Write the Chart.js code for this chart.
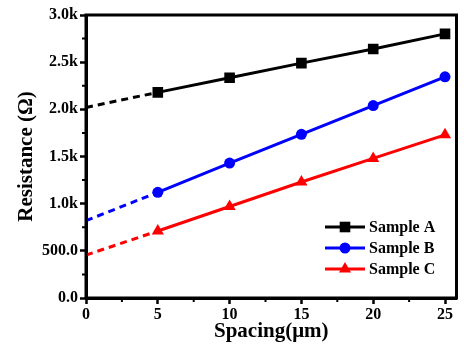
<!DOCTYPE html>
<html>
<head>
<meta charset="utf-8">
<script src="https://cdn.jsdelivr.net/npm/chart.js"></script>
<style>
  html, body { margin: 0; padding: 0; background: #fff; }
  #wrap { width: 464px; height: 351px; position: relative; }
</style>
</head>
<body>
<div id="wrap"><canvas id="resChart"></canvas></div>
<script>
// measured points (spacing in um, resistance in ohm)
const xValues = [5, 10, 15, 20, 25];
const sampleA = [2180, 2335, 2490, 2640, 2800];
const sampleB = [1120, 1430, 1735, 2040, 2345];
const sampleC = [710, 970, 1230, 1480, 1730];

// dashed extrapolation back to zero spacing
const extrapX = [0, 5];
const extrapA = [2020, 2180];
const extrapB = [820, 1120];
const extrapC = [455, 710];

const seriesNames = ['Sample A', 'Sample B', 'Sample C'];
const seriesColors = ['#000000', '#0000ff', '#ff0000'];
const xTickLabels = ['0', '5', '10', '15', '20', '25'];
const yTickLabels = ['0.0', '500.0', '1.0k', '1.5k', '2.0k', '2.5k', '3.0k'];

const FONT = "'Liberation Serif', 'Times New Roman', serif";

function pts(xs, ys) {
  return xs.map((x, i) => ({ x: x, y: ys[i] }));
}

const markers = [
  { style: 'rect', radius: 7.5 },
  { style: 'circle', radius: 5.5 },
  { style: 'triangle', radius: 7 }
];

const solidSets = [sampleA, sampleB, sampleC].map((ys, i) => ({
  label: seriesNames[i],
  data: pts(xValues, ys),
  borderColor: seriesColors[i],
  backgroundColor: seriesColors[i],
  borderWidth: 3,
  pointStyle: markers[i].style,
  pointRadius: markers[i].radius,
  pointHoverRadius: markers[i].radius,
  pointBorderWidth: 0,
  tension: 0
}));

const dashedSets = [extrapA, extrapB, extrapC].map((ys, i) => ({
  label: '_extrap' + i,
  data: pts(extrapX, ys),
  borderColor: seriesColors[i],
  borderWidth: 3,
  borderDash: [7, 5],
  pointRadius: 0,
  tension: 0
}));

// box frame + minor ticks
const framePlugin = {
  id: 'frame',
  afterDraw(chart) {
    const { ctx, chartArea: a } = chart;
    const xs = chart.scales.x, ys = chart.scales.y;
    ctx.save();
    ctx.strokeStyle = '#000';
    ctx.lineWidth = 3;
    ctx.strokeRect(a.left, a.top, a.right - a.left, a.bottom - a.top);
    ctx.lineWidth = 2;
    ctx.beginPath();
    for (let v = 2.5; v < 25; v += 5) {
      const px = xs.getPixelForValue(v);
      ctx.moveTo(px, a.bottom);
      ctx.lineTo(px, a.bottom + 4);
    }
    for (let v = 250; v < 3000; v += 500) {
      const py = ys.getPixelForValue(v);
      ctx.moveTo(a.left, py);
      ctx.lineTo(a.left - 4, py);
    }
    ctx.stroke();
    ctx.restore();
  }
};

// legend drawn inside the plot, lower right
const legendPlugin = {
  id: 'innerLegend',
  afterDraw(chart) {
    const ctx = chart.ctx;
    const x0 = 325, x1 = 365, rowY = [227, 248, 269];
    ctx.save();
    solidSets.forEach((ds, i) => {
      const y = rowY[i];
      ctx.strokeStyle = ds.borderColor;
      ctx.lineWidth = 3;
      ctx.beginPath();
      ctx.moveTo(x0, y);
      ctx.lineTo(x1, y);
      ctx.stroke();
      ctx.fillStyle = ds.backgroundColor;
      Chart.helpers.drawPoint(ctx, {
        pointStyle: ds.pointStyle,
        radius: ds.pointRadius,
        borderWidth: 0
      }, (x0 + x1) / 2, y);
      ctx.fillStyle = '#000';
      ctx.font = 'bold 16px ' + FONT;
      ctx.textBaseline = 'middle';
      ctx.textAlign = 'left';
      ctx.fillText(ds.label, x1 + 4, y + 1);
    });
    ctx.restore();
  }
};

const ctx = document.getElementById('resChart').getContext('2d');
new Chart(ctx, {
  type: 'line',
  data: { datasets: dashedSets.concat(solidSets) },
  options: {
    responsive: true,
    maintainAspectRatio: false,
    animation: false,
    layout: { padding: { top: 15, right: 3, left: 0, bottom: 0 } },
    plugins: { legend: { display: false }, tooltip: { enabled: false } },
    scales: {
      x: {
        type: 'linear',
        min: 0,
        max: 25.8,
        afterFit: s => { s.height = 53; },
        border: { display: true, color: '#000', width: 3 },
        grid: { drawOnChartArea: false, tickLength: 6, tickWidth: 2.5, tickColor: '#000' },
        ticks: {
          stepSize: 5,
          includeBounds: false,
          color: '#000',
          padding: 1,
          maxRotation: 0,
          font: { family: FONT, size: 16, weight: 'bold' },
          callback: (v, i) => xTickLabels[i]
        },
        title: {
          display: true,
          text: 'Spacing(μm)',
          color: '#000',
          font: { family: FONT, size: 21, weight: 'bold' },
          padding: { top: 0, bottom: 7 }
        }
      },
      y: {
        min: 0,
        max: 3000,
        afterFit: s => { s.width = 86; },
        border: { display: true, color: '#000', width: 3 },
        grid: { drawOnChartArea: false, tickLength: 6, tickWidth: 2.5, tickColor: '#000' },
        ticks: {
          stepSize: 500,
          color: '#000',
          padding: 2,
          font: { family: FONT, size: 16, weight: 'bold' },
          callback: (v, i) => yTickLabels[i]
        },
        title: {
          display: true,
          text: 'Resistance (Ω)',
          color: '#000',
          font: { family: FONT, size: 21, weight: 'bold' },
          padding: { top: 14, bottom: 0 }
        }
      }
    }
  },
  plugins: [framePlugin, legendPlugin]
});
</script>
</body>
</html>
